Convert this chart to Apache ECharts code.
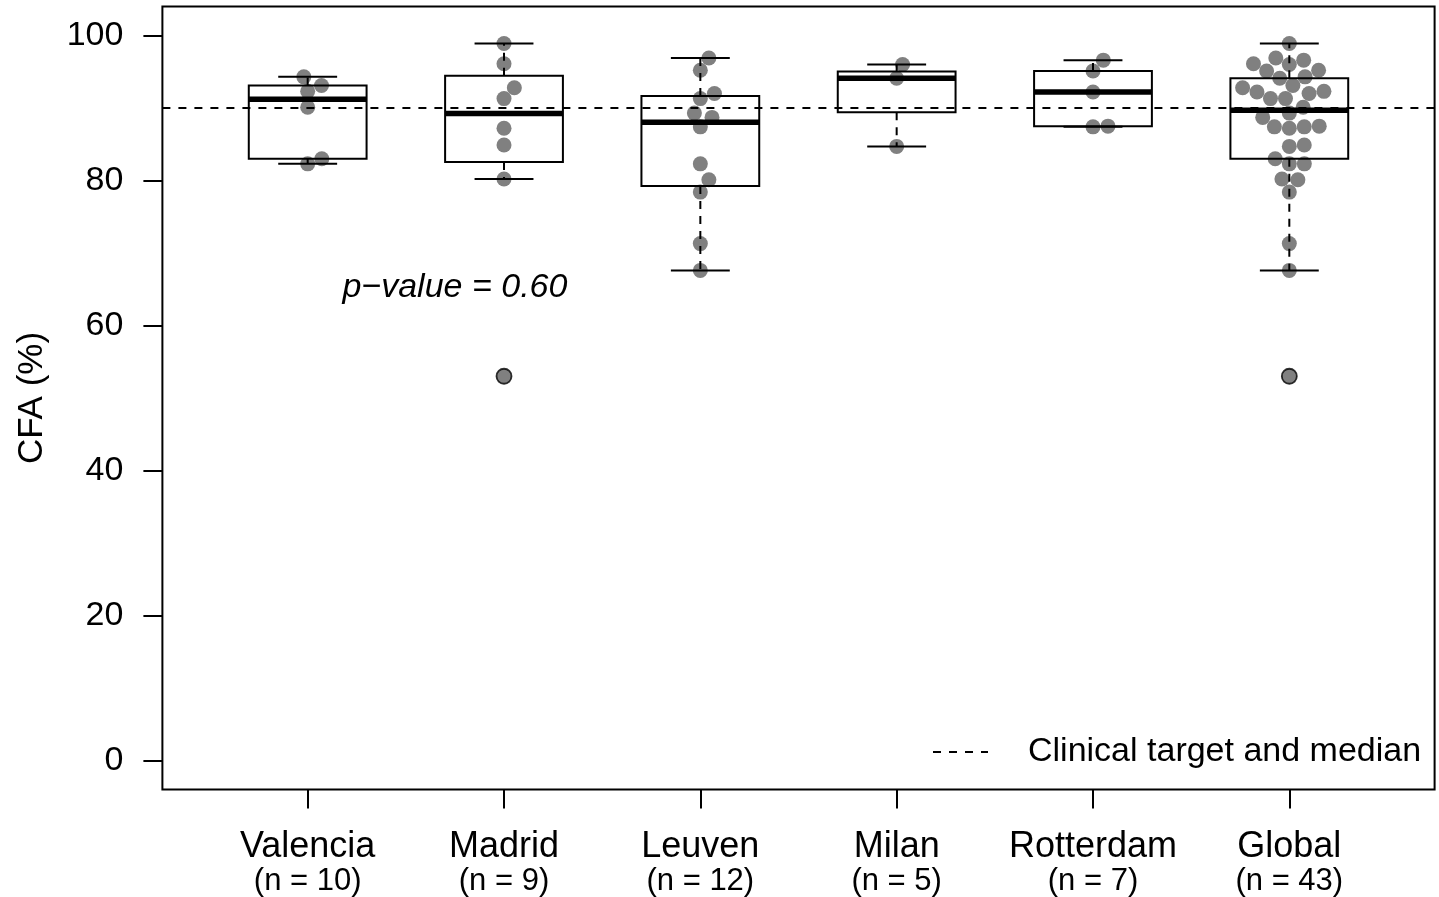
<!DOCTYPE html>
<html>
<head>
<meta charset="utf-8">
<script src="https://cdn.jsdelivr.net/npm/echarts@6/dist/echarts.min.js"></script>
<style>
html,body{margin:0;padding:0;background:#fff;}
#chart{width:1439px;height:897px;}
</style>
</head>
<body>
<div id="chart"></div>
<script>
// ---------------- data ----------------
const categories = ['Valencia', 'Madrid', 'Leuven', 'Milan', 'Rotterdam', 'Global'];
const sampleSizes = [10, 9, 12, 5, 7, 43];
const valencia = [82.3, 83.0, 90.1, 92.3, 93.1, 94.3];
const madrid = [53.0, 80.2, 84.9, 87.2, 91.3, 92.8, 96.1, 98.9];
const leuven = [67.6, 71.3, 78.4, 80.1, 82.3, 87.4, 88.7, 89.3, 91.3, 92.0, 95.2, 96.9];
const milan = [84.7, 94.1, 96.0];
const rotterdam = [87.4, 87.5, 92.2, 95.1, 96.6];
const globalAll = [].concat(valencia, madrid, leuven, milan, rotterdam);
const groups = [valencia, madrid, leuven, milan, rotterdam, globalAll];
const yTickValues = [0, 20, 40, 60, 80, 100];
const clinicalTarget = 90;
const legendLabel = 'Clinical target and median';
const yAxisTitle = 'CFA (%)';
const pValueLabel = 'p\u2212value = 0.60';
const pValueAt = [1.75, 65.2];

// ---------------- stats (R fivenum / boxplot.stats) ----------------
function fivenum(arr) {
  const x = arr.slice().sort((a, b) => a - b);
  const n = x.length;
  const n4 = Math.floor((n + 3) / 2) / 2;
  const d = [1, n4, (n + 1) / 2, n + 1 - n4, n];
  return d.map(k => 0.5 * (x[Math.floor(k) - 1] + x[Math.ceil(k) - 1]));
}
function boxStats(arr) {
  const f = fivenum(arr);
  const iqr = f[3] - f[1];
  const lo = f[1] - 1.5 * iqr, hi = f[3] + 1.5 * iqr;
  const inside = arr.filter(v => v >= lo && v <= hi);
  return {
    lw: Math.min.apply(null, inside), q1: f[1], med: f[2], q3: f[3],
    hw: Math.max.apply(null, inside),
    out: arr.filter(v => v < lo || v > hi)
  };
}
const stats = groups.map(boxStats);
const boxData = stats.map((s, i) => [i + 1, s.lw, s.q1, s.med, s.q3, s.hw]);
const outlierData = [];
stats.forEach((s, i) => s.out.forEach(v => outlierData.push([i + 1, v])));

// ---------------- chart ----------------
const FONT = '"Liberation Sans", Arial, Helvetica, sans-serif';
const X_MIN = 0.26, X_MAX = 6.74;
const BOX_HALF = 0.3, CAP_HALF = 0.15;
const chart = echarts.init(document.getElementById('chart'), null, {renderer: 'canvas'});

const option = {
  backgroundColor: '#fff',
  animation: false,
  textStyle: {fontFamily: FONT},
  grid: {
    left: 162.4, top: 6.5, width: 1272.2, height: 783.5,
    show: true, borderColor: '#000', borderWidth: 2, backgroundColor: 'transparent'
  },
  legend: {
    data: [legendLabel],
    left: 932, top: 734,
    padding: 0,
    itemWidth: 55, itemHeight: 14,
    textStyle: {fontSize: 34, color: '#000', fontFamily: FONT, lineHeight: 36, padding: [0, 0, 0, 35]},
    itemStyle: {opacity: 0},
    selectedMode: false
  },
  xAxis: {
    type: 'value', min: X_MIN, max: X_MAX,
    axisLine: {show: false, onZero: false},
    splitLine: {show: false},
    axisTick: {show: true, customValues: [1, 2, 3, 4, 5, 6], length: 19, lineStyle: {color: '#000', width: 2}},
    axisLabel: {
      customValues: [1, 2, 3, 4, 5, 6],
      margin: 40,
      formatter: function (v) {
        const i = Math.round(v) - 1;
        return '{a|' + categories[i] + '}\n{b|(n = ' + sampleSizes[i] + ')}';
      },
      rich: {
        a: {fontSize: 36, lineHeight: 36, color: '#000', fontFamily: FONT},
        b: {fontSize: 31, lineHeight: 32, color: '#000', fontFamily: FONT}
      }
    }
  },
  yAxis: {
    type: 'value', min: -4, max: 104,
    axisLine: {show: false},
    splitLine: {show: false},
    axisTick: {show: true, customValues: yTickValues, length: 19, lineStyle: {color: '#000', width: 2}},
    axisLabel: {customValues: yTickValues, margin: 39, fontSize: 34, color: '#000', fontFamily: FONT},
    name: yAxisTitle, nameLocation: 'middle', nameGap: 113,
    nameTextStyle: {fontSize: 35, color: '#000', fontFamily: FONT}
  },
  series: [
    {
      id: 'dots', type: 'scatter', z: 2, silent: true,
      symbol: 'circle', symbolSize: 15,
      itemStyle: {color: '#808080', opacity: 1},
      data: []
    },
    {
      id: 'target', name: legendLabel, type: 'line', z: 3, silent: true,
      symbol: 'none',
      lineStyle: {color: '#000', width: 2, type: [8, 8]},
      itemStyle: {color: 'rgba(0,0,0,0)'},
      data: [[X_MIN, clinicalTarget], [X_MAX, clinicalTarget]]
    },
    {
      id: 'boxes', type: 'custom', z: 4, silent: true,
      encode: {x: 0, y: [1, 2, 3, 4, 5]},
      data: boxData,
      renderItem: function (params, api) {
        const c = api.value(0);
        const lw = api.value(1), q1 = api.value(2), md = api.value(3), q3 = api.value(4), hw = api.value(5);
        const p = (x, y) => api.coord([x, y]);
        const tl = p(c - BOX_HALF, q3), br = p(c + BOX_HALF, q1);
        const ml = p(c - BOX_HALF, md), mr = p(c + BOX_HALF, md);
        const wt0 = p(c, q3), wt1 = p(c, hw), wb0 = p(c, q1), wb1 = p(c, lw);
        const ctl = p(c - CAP_HALF, hw), ctr = p(c + CAP_HALF, hw);
        const cbl = p(c - CAP_HALF, lw), cbr = p(c + CAP_HALF, lw);
        const dashed = {stroke: '#000', lineWidth: 2, lineDash: [8, 7]};
        const solid = {stroke: '#000', lineWidth: 2};
        return {
          type: 'group',
          children: [
            {type: 'line', shape: {x1: wt0[0], y1: wt0[1], x2: wt1[0], y2: wt1[1]}, style: dashed},
            {type: 'line', shape: {x1: wb0[0], y1: wb0[1], x2: wb1[0], y2: wb1[1]}, style: dashed},
            {type: 'line', shape: {x1: ctl[0], y1: ctl[1], x2: ctr[0], y2: ctr[1]}, style: solid},
            {type: 'line', shape: {x1: cbl[0], y1: cbl[1], x2: cbr[0], y2: cbr[1]}, style: solid},
            {type: 'rect', shape: {x: tl[0], y: tl[1], width: br[0] - tl[0], height: br[1] - tl[1]},
             style: {stroke: '#000', lineWidth: 2, fill: 'none'}},
            {type: 'line', shape: {x1: ml[0], y1: ml[1], x2: mr[0], y2: mr[1]}, style: {stroke: '#000', lineWidth: 5.5}}
          ]
        };
      }
    },
    {
      id: 'outliers', type: 'scatter', z: 5, silent: true,
      symbol: 'circle', symbolSize: 15,
      itemStyle: {color: 'rgba(0,0,0,0)', borderColor: '#000', borderWidth: 1.8},
      data: outlierData
    },
    {
      id: 'pvalue', type: 'scatter', z: 6, silent: true,
      symbolSize: 1, itemStyle: {color: 'rgba(0,0,0,0)'},
      label: {
        show: true, position: 'inside', formatter: pValueLabel,
        fontSize: 34, fontStyle: 'italic', color: '#000', fontFamily: FONT,
        textBorderWidth: 0, opacity: 1
      },
      data: [pValueAt]
    }
  ]
};
chart.setOption(option);

// ---------------- beeswarm layout (R "swarm" style) ----------------
const yPx0 = chart.convertToPixel({yAxisIndex: 0}, 0);
const yPx100 = chart.convertToPixel({yAxisIndex: 0}, 100);
const sy = (yPx0 - yPx100) / 100;
const sx = chart.convertToPixel({xAxisIndex: 0}, 2) - chart.convertToPixel({xAxisIndex: 0}, 1);
const SPACING = 15;
function swarm(vals) {
  const order = vals.map((v, i) => i).sort((a, b) => vals[a] - vals[b]);
  const placed = [];
  const xs = new Array(vals.length);
  order.forEach(i => {
    const y = vals[i] * sy;
    const pos = [], neg = [];
    placed.forEach(q => {
      const dy = Math.abs(q.y - y);
      if (dy < SPACING) {
        const o = Math.sqrt(SPACING * SPACING - dy * dy);
        pos.push(q.x + o); neg.push(q.x - o);
      }
    });
    const cands = [0].concat(pos, neg);
    let best = null;
    cands.forEach(c => {
      const ok = placed.every(q => (q.x - c) * (q.x - c) + (q.y - y) * (q.y - y) >= SPACING * SPACING - 1e-6);
      if (ok && (best === null || Math.abs(c) < Math.abs(best) - 1e-9)) best = c;
    });
    placed.push({x: best, y: y});
    xs[i] = best;
  });
  return xs;
}
const dotData = [];
groups.forEach((g, gi) => {
  const offs = swarm(g);
  g.forEach((v, k) => dotData.push([gi + 1 + offs[k] / sx, v]));
});
chart.setOption({series: [{id: 'dots', data: dotData}]});
</script>
</body>
</html>
